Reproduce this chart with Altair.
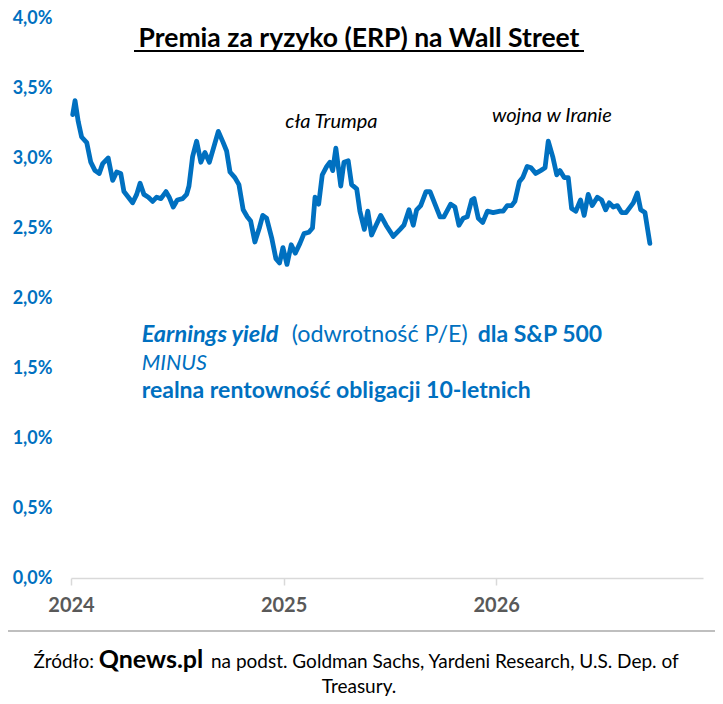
import altair as alt
import pandas as pd

# ---- data ----
years = [2024.008, 2024.019, 2024.034, 2024.050, 2024.074, 2024.093, 2024.113, 2024.133, 2024.149, 2024.175,
         2024.196, 2024.215, 2024.234, 2024.249, 2024.270, 2024.290, 2024.309, 2024.325, 2024.343, 2024.364,
         2024.384, 2024.403, 2024.423, 2024.447, 2024.462, 2024.481, 2024.500, 2024.525, 2024.544, 2024.555,
         2024.572, 2024.591, 2024.611, 2024.630, 2024.651, 2024.674, 2024.693, 2024.716, 2024.732, 2024.748,
         2024.771, 2024.790, 2024.810, 2024.829, 2024.845, 2024.865, 2024.886, 2024.902, 2024.920, 2024.944,
         2024.964, 2024.981, 2024.997, 2025.016, 2025.036, 2025.055, 2025.077, 2025.096, 2025.119, 2025.136,
         2025.148, 2025.165, 2025.182, 2025.203, 2025.218, 2025.231, 2025.246, 2025.269, 2025.284, 2025.304,
         2025.320, 2025.344, 2025.359, 2025.380, 2025.396, 2025.414, 2025.435, 2025.457, 2025.482, 2025.516,
         2025.548, 2025.566, 2025.590, 2025.610, 2025.626, 2025.645, 2025.670, 2025.689, 2025.736, 2025.754,
         2025.786, 2025.806, 2025.825, 2025.845, 2025.864, 2025.885, 2025.896, 2025.916, 2025.937, 2025.959,
         2025.986, 2026.018, 2026.033, 2026.052, 2026.073, 2026.088, 2026.109, 2026.125, 2026.146, 2026.164,
         2026.186, 2026.209, 2026.230, 2026.245, 2026.266, 2026.285, 2026.300, 2026.320, 2026.339, 2026.355,
         2026.375, 2026.397, 2026.414, 2026.433, 2026.452, 2026.476, 2026.496, 2026.515, 2026.532, 2026.551,
         2026.570, 2026.590, 2026.611, 2026.645, 2026.664, 2026.680, 2026.700, 2026.723]

erp = [3.31, 3.41, 3.26, 3.15, 3.11, 2.97, 2.91, 2.89, 2.96, 3.00,
       2.84, 2.90, 2.89, 2.76, 2.72, 2.68, 2.74, 2.82, 2.74, 2.72,
       2.69, 2.72, 2.71, 2.76, 2.72, 2.65, 2.70, 2.71, 2.74, 2.80,
       3.01, 3.12, 2.97, 3.04, 2.97, 3.09, 3.19, 3.11, 3.05, 2.90,
       2.86, 2.81, 2.63, 2.58, 2.55, 2.40, 2.50, 2.59, 2.57, 2.43,
       2.28, 2.25, 2.36, 2.24, 2.38, 2.32, 2.39, 2.46, 2.47, 2.50,
       2.72, 2.67, 2.88, 2.94, 2.97, 2.91, 3.07, 2.80, 2.97, 2.98,
       2.81, 2.78, 2.62, 2.49, 2.62, 2.45, 2.52, 2.59, 2.52, 2.44,
       2.49, 2.52, 2.63, 2.52, 2.63, 2.66, 2.76, 2.76, 2.58, 2.58,
       2.67, 2.65, 2.52, 2.57, 2.58, 2.70, 2.71, 2.57, 2.54, 2.62,
       2.61, 2.62, 2.62, 2.66, 2.66, 2.69, 2.83, 2.86, 2.94, 2.93,
       2.89, 2.91, 2.93, 3.12, 3.01, 2.88, 2.91, 2.86, 2.86, 2.64,
       2.62, 2.70, 2.59, 2.74, 2.66, 2.72, 2.70, 2.63, 2.68, 2.65,
       2.66, 2.61, 2.61, 2.68, 2.75, 2.63, 2.61, 2.39]

x_ticks = [2024, 2025, 2026]
y_ticks = [0.0, 0.5, 1.0, 1.5, 2.0, 2.5, 3.0, 3.5, 4.0]

ann_text = ["cła Trumpa", "wojna w Iranie"]
ann_t = [2025.225, 2026.262]
ann_v = [3.212, 3.259]

title_text = "Premia za ryzyko (ERP) na Wall Street"
desc_1a = "Earnings yield"
desc_1b = "(odwrotność P/E)"
desc_1c = "dla S&P 500"
desc_2 = "MINUS"
desc_3 = "realna rentowność obligacji 10-letnich"
src_a = "Źródło:"
src_b = "Qnews.pl"
src_c = "na podst. Goldman Sachs, Yardeni Research, U.S. Dep. of"
src_d = "Treasury."

FONT = "Lato"
BLUE = "#0070C0"

df = pd.DataFrame({"t": years, "erp": erp})
ann = pd.DataFrame({"t": ann_t, "erp": ann_v, "label": ann_text})

x_enc = alt.X(
    "t:Q",
    scale=alt.Scale(domain=[2024, 2026.973], nice=False, zero=False),
    axis=alt.Axis(
        values=x_ticks, format="d", title=None, grid=False, labelFlush=False,
        domainColor="#d9d9d9", domainWidth=1.5,
        tickColor="#d9d9d9", tickSize=7, tickWidth=1.5,
        labelFont=FONT, labelFontSize=20, labelFontWeight="bold",
        labelColor="#595959", labelPadding=10,
    ),
)
y_enc = alt.Y(
    "erp:Q",
    scale=alt.Scale(domain=[0, 4], nice=False),
    axis=alt.Axis(
        values=y_ticks, title=None, grid=False, domain=False, ticks=False,
        labelFlush=False,
        labelExpr="replace(format(datum.value, '.1f'), '.', ',') + '%'",
        labelFont=FONT, labelFontSize=18, labelFontWeight="bold",
        labelColor=BLUE, labelPadding=19,
    ),
)

line = alt.Chart(df).mark_line(
    color=BLUE, strokeWidth=4.8, strokeJoin="round", strokeCap="round"
).encode(x=x_enc, y=y_enc)

annot = alt.Chart(ann).mark_text(
    font=FONT, fontSize=20, fontStyle="italic", color="black",
    align="center", baseline="alphabetic",
).encode(x=x_enc, y=y_enc, text="label:N")


def txt(s, px, py, size, weight="normal", style="normal", color="black", align="left"):
    return alt.Chart(pd.DataFrame({"s": [s]})).mark_text(
        font=FONT, fontSize=size, fontWeight=weight, fontStyle=style,
        color=color, align=align, baseline="alphabetic",
    ).encode(x=alt.value(px), y=alt.value(py), text="s:N")


def hrule(x1, x2, py, color, width):
    return alt.Chart(pd.DataFrame({"a": [0]})).mark_rule(
        color=color, strokeWidth=width
    ).encode(x=alt.value(x1), x2=alt.value(x2), y=alt.value(py))


layers = [
    line,
    annot,
    txt(title_text, 288, 29, 26.5, weight="bold", align="center"),
    hrule(63, 513, 33, "black", 2),
    txt(desc_1a, 70.7, 323.7, 23.5, weight="bold", style="italic", color=BLUE),
    txt(desc_1b, 220.7, 323.7, 23.3, color=BLUE),
    txt(desc_1c, 406.7, 323.7, 23, weight="bold", color=BLUE),
    txt(desc_2, 70.7, 352, 21.5, style="italic", color=BLUE),
    txt(desc_3, 70.7, 380.3, 23, weight="bold", color=BLUE),
    hrule(-71, 652, 613, "#bfbfbf", 2),
    txt(src_a, 23, 649.7, 19, align="right"),
    txt(src_b, 80, 649.7, 25, weight="bold", align="center"),
    txt(src_c, 140, 649.7, 19),
    txt(src_d, 288, 675, 19, align="center"),
]

chart = alt.layer(*layers).properties(
    width=632,
    height=560,
    padding={"left": 63, "top": 10, "right": 12, "bottom": 118},
    autosize=alt.AutoSizeParams(type="none"),
).configure_view(stroke=None)

chart.save("out.html", embed_options={"renderer": "svg", "actions": False})
